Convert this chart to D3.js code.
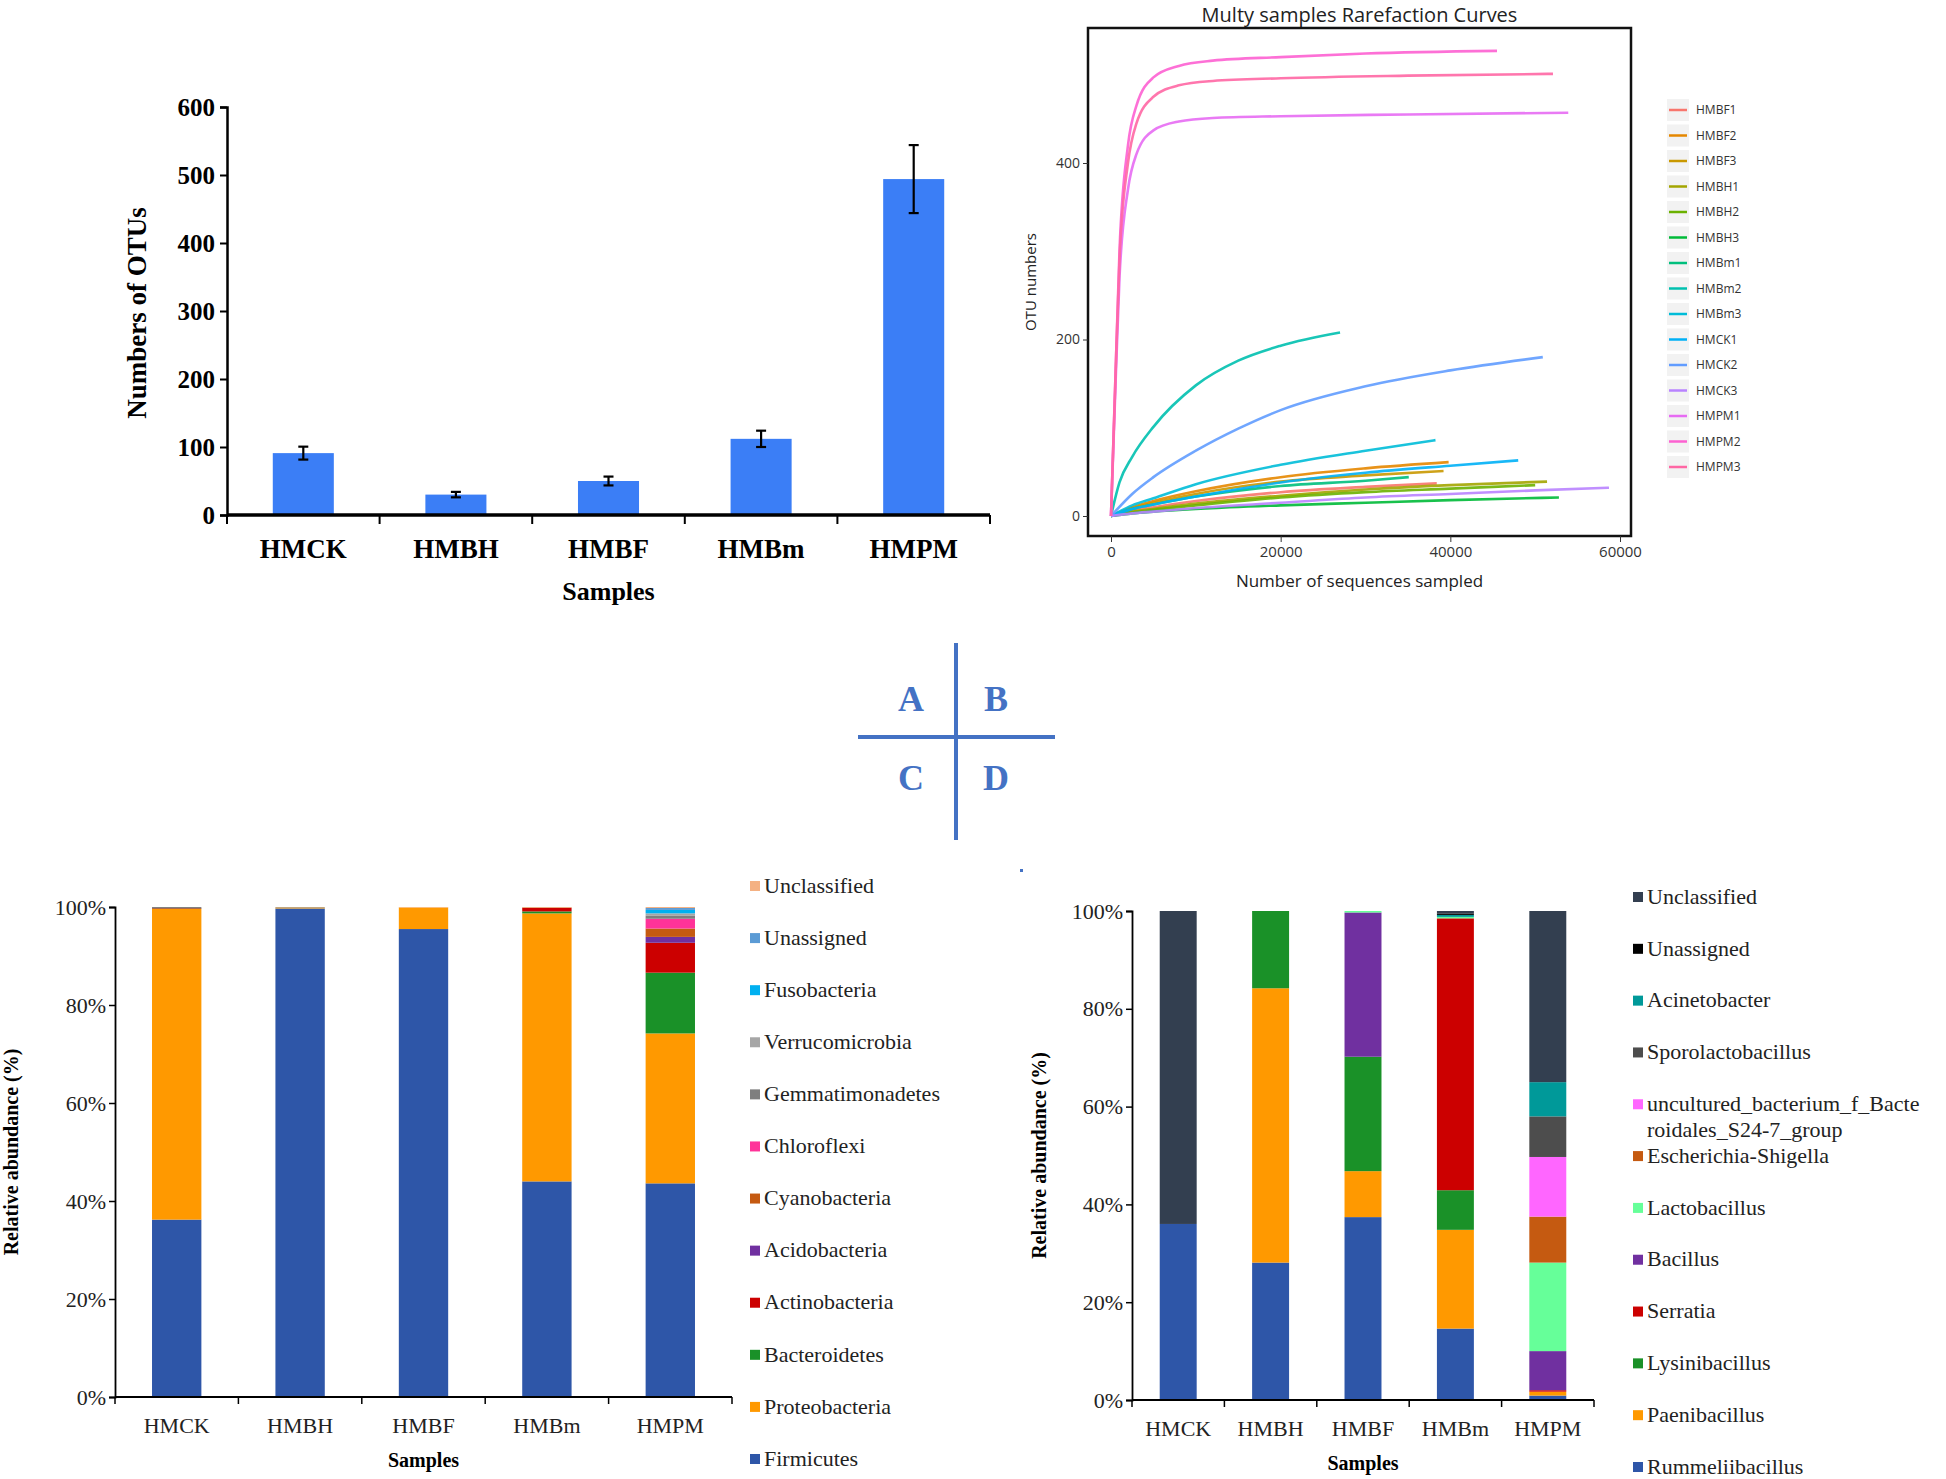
<!DOCTYPE html>
<html>
<head>
<meta charset="utf-8">
<script src="https://cdn.jsdelivr.net/npm/d3@7"></script>
<style>
  html, body { margin: 0; padding: 0; background: #fff; }
  svg { display: block; }
</style>
</head>
<body>
<svg id="chart" width="1946" height="1479"></svg>
<script>
// ---------------- DATA ----------------
const samples = ["HMCK", "HMBH", "HMBF", "HMBm", "HMPM"];

// Panel A: number of OTUs
const otuMeans = [91, 30, 50, 112, 494];
const otuErrors = [9.5, 4, 6.5, 12, 50];
const otuTicks = [0, 100, 200, 300, 400, 500, 600];

// Panel B: rarefaction curves (read points: [sequences, OTUs])
const rareNames = ["HMBF1","HMBF2","HMBF3","HMBH1","HMBH2","HMBH3","HMBm1","HMBm2","HMBm3","HMCK1","HMCK2","HMCK3","HMPM1","HMPM2","HMPM3"];
const rareColors = ["#F8766D","#E58700","#C99800","#A3A500","#6BB100","#00BA38","#00BF7D","#00C0AF","#00BCD8","#00B0F6","#619CFF","#B983FF","#E76BF3","#FD61D1","#FF67A4"];
const rareHMBF1 = [[0,0],[2500,6],[5000,10],[10000,17],[20000,27],[30000,33],[38400,37]];
const rareHMBF2 = [[0,0],[2500,10],[5000,17],[10000,28],[20000,44],[30000,54],[39800,61]];
const rareHMBF3 = [[0,0],[2500,9],[5000,15],[10000,25],[20000,39],[30000,46],[39200,51]];
const rareHMBH1 = [[0,0],[2500,5],[5000,8],[10000,14],[20000,23],[30000,30],[40000,35],[51400,39]];
const rareHMBH2 = [[0,0],[2500,4],[5000,7],[10000,12],[20000,21],[30000,27],[40000,31],[50000,35]];
const rareHMBH3 = [[0,0],[2500,3],[5000,5],[10000,8],[20000,12],[30000,15],[40000,18],[52800,21]];
const rareHMBm1 = [[0,0],[2500,8],[5000,13],[10000,22],[20000,34],[30000,40],[35100,44]];
const rareHMBm2 = [[0,0],[1000,38],[2500,67],[5000,101],[10000,148],[15000,176],[20000,193],[27000,208]];
const rareHMBm3 = [[0,0],[2500,12],[5000,20],[10000,36],[20000,58],[30000,74],[38250,86]];
const rareHMCK1 = [[0,0],[2500,8],[5000,13],[10000,22],[20000,38],[30000,49],[40000,57],[48000,63]];
const rareHMCK2 = [[0,0],[2500,25],[5000,44],[10000,74],[15000,99],[20000,120],[30000,147],[40000,165],[50900,180]];
const rareHMCK3 = [[0,0],[2500,3],[5000,5],[10000,9],[20000,15],[30000,21],[40000,25],[50000,29],[58700,32]];
const rareHMPM1 = [[0,0],[500,140],[1000,270],[2000,370],[3000,410],[5000,437],[8000,447],[12000,451],[20000,453],[35000,455],[53900,457]];
const rareHMPM2 = [[0,0],[500,150],[1000,300],[2000,420],[3000,465],[5000,497],[8000,510],[12000,516],[20000,520],[30000,524],[45500,527]];
const rareHMPM3 = [[0,0],[500,150],[1000,290],[2000,400],[3000,445],[5000,475],[8000,488],[12000,493],[20000,496],[35000,499],[52100,501]];
const rareSeries = [rareHMBF1,rareHMBF2,rareHMBF3,rareHMBH1,rareHMBH2,rareHMBH3,rareHMBm1,rareHMBm2,rareHMBm3,rareHMCK1,rareHMCK2,rareHMCK3,rareHMPM1,rareHMPM2,rareHMPM3];
const rareXTicks = [0, 20000, 40000, 60000];
const rareYTicks = [0, 200, 400];

// Panel C: phylum relative abundance (%), stack order bottom -> top
const phylumNames = ["Firmicutes","Proteobacteria","Bacteroidetes","Actinobacteria","Acidobacteria","Cyanobacteria","Chloroflexi","Gemmatimonadetes","Verrucomicrobia","Fusobacteria","Unassigned","Unclassified"];
const phylumColors = ["#2E56A8","#FF9900","#1A9128","#CC0000","#7030A0","#C55A11","#FF3399","#7F7F7F","#A6A6A6","#00B0F0","#5B9BD5","#F4B183"];
const phylumFirmicutes       = [36.2, 99.7, 95.5, 44.0, 43.6];
const phylumProteobacteria   = [63.4, 0.2, 4.4, 54.7, 30.6];
const phylumBacteroidetes    = [0.1, 0, 0, 0.4, 12.4];
const phylumActinobacteria   = [0.1, 0, 0, 0.7, 6.1];
const phylumAcidobacteria    = [0, 0, 0, 0, 1.2];
const phylumCyanobacteria    = [0, 0, 0, 0.1, 1.7];
const phylumChloroflexi      = [0, 0, 0, 0, 2.0];
const phylumGemmatimonadetes = [0.2, 0.1, 0, 0, 0.6];
const phylumVerrucomicrobia  = [0, 0, 0, 0, 0.5];
const phylumFusobacteria     = [0, 0, 0, 0, 0.7];
const phylumUnassigned       = [0, 0, 0, 0, 0.4];
const phylumUnclassified     = [0, 0, 0.1, 0.1, 0.2];
const phylumValues = [phylumFirmicutes, phylumProteobacteria, phylumBacteroidetes, phylumActinobacteria, phylumAcidobacteria, phylumCyanobacteria, phylumChloroflexi, phylumGemmatimonadetes, phylumVerrucomicrobia, phylumFusobacteria, phylumUnassigned, phylumUnclassified];

// Panel D: genus relative abundance (%), stack order bottom -> top
const genusNames = ["Rummeliibacillus","Paenibacillus","Lysinibacillus","Serratia","Bacillus","Lactobacillus","Escherichia-Shigella","uncultured_bacterium_f_Bacteroidales_S24-7_group","Sporolactobacillus","Acinetobacter","Unassigned","Unclassified"];
const genusColors = ["#2E56A8","#FF9900","#1A9128","#CC0000","#7030A0","#66FF99","#C55A11","#FF66FF","#4D4D4D","#009999","#000000","#333F50"];
const genusRummeliibacillus = [36.0, 28.1, 37.4, 14.6, 0.9];
const genusPaenibacillus    = [0, 56.1, 9.4, 20.2, 0.8];
const genusLysinibacillus   = [0, 15.8, 23.4, 8.1, 0];
const genusSerratia         = [0, 0, 0, 55.6, 0.3];
const genusBacillus         = [0, 0, 29.5, 0, 8.0];
const genusLactobacillus    = [0, 0, 0.3, 0.3, 18.1];
const genusEscherichia      = [0, 0, 0, 0, 9.4];
const genusUncultured       = [0, 0, 0, 0, 12.2];
const genusSporolacto       = [0, 0, 0, 0, 8.3];
const genusAcinetobacter    = [0, 0, 0, 0.4, 7.0];
const genusUnassigned       = [0, 0, 0, 0.3, 0];
const genusUnclassified     = [64.0, 0, 0, 0.5, 35.0];
const genusValues = [genusRummeliibacillus, genusPaenibacillus, genusLysinibacillus, genusSerratia, genusBacillus, genusLactobacillus, genusEscherichia, genusUncultured, genusSporolacto, genusAcinetobacter, genusUnassigned, genusUnclassified];

const pctTicks = [0, 20, 40, 60, 80, 100];

// ---------------- DRAWING ----------------
const svg = d3.select("#chart");
svg.append("rect").attr("width", 1946).attr("height", 1479).attr("fill", "#fff");
const SERIF = "'Liberation Serif', 'Times New Roman', serif";
const SANS = "'Open Sans', 'DejaVu Sans', sans-serif";

// ===== Panel A =====
(function () {
  const g = svg.append("g");
  const L = 227, R = 990, Y0 = 515, Y600 = 107;
  const x = d3.scaleBand().domain(samples).range([L, R]).paddingInner(0.6).paddingOuter(0.3);
  const y = d3.scaleLinear().domain([0, 600]).range([Y0, Y600]);

  g.selectAll("rect.bar").data(samples).enter().append("rect")
    .attr("x", d => x(d)).attr("width", x.bandwidth())
    .attr("y", (d, i) => y(otuMeans[i])).attr("height", (d, i) => Y0 - y(otuMeans[i]))
    .attr("fill", "#3B7EF6");

  const eg = g.append("g").attr("stroke", "#000").attr("stroke-width", 2.2);
  samples.forEach((s, i) => {
    const cx = x(s) + x.bandwidth() / 2;
    eg.append("line").attr("x1", cx).attr("x2", cx).attr("y1", y(otuMeans[i] - otuErrors[i])).attr("y2", y(otuMeans[i] + otuErrors[i]));
    [otuMeans[i] - otuErrors[i], otuMeans[i] + otuErrors[i]].forEach(v => {
      eg.append("line").attr("x1", cx - 5).attr("x2", cx + 5).attr("y1", y(v)).attr("y2", y(v));
    });
  });

  const ya = g.append("g").attr("transform", `translate(${L},0)`)
    .call(d3.axisLeft(y).tickValues(otuTicks).tickSize(7).tickFormat(d3.format("d")));
  ya.select(".domain").attr("stroke-width", 2.5);
  ya.selectAll(".tick line").attr("stroke-width", 2);
  ya.selectAll("text").attr("font-family", SERIF).attr("font-weight", "bold").attr("font-size", 25).attr("fill", "#000").attr("dx", "-2");

  const xa = g.append("g");
  xa.append("line").attr("x1", L).attr("x2", R).attr("y1", Y0).attr("y2", Y0).attr("stroke", "#000").attr("stroke-width", 3.5);
  d3.range(samples.length + 1).forEach(i => {
    const tx = L + i * x.step();
    xa.append("line").attr("x1", tx).attr("x2", tx).attr("y1", Y0).attr("y2", Y0 + 9).attr("stroke", "#000").attr("stroke-width", 2);
  });
  g.selectAll("text.cat").data(samples).enter().append("text")
    .attr("x", d => x(d) + x.bandwidth() / 2).attr("y", 558)
    .attr("text-anchor", "middle").attr("font-family", SERIF).attr("font-weight", "bold").attr("font-size", 27)
    .text(d => d);
  g.append("text").attr("x", (L + R) / 2).attr("y", 600).attr("text-anchor", "middle")
    .attr("font-family", SERIF).attr("font-weight", "bold").attr("font-size", 26).text("Samples");
  g.append("text").attr("transform", `translate(146,${(Y0 + Y600) / 2 + 2}) rotate(-90)`).attr("text-anchor", "middle")
    .attr("font-family", SERIF).attr("font-weight", "bold").attr("font-size", 27).text("Numbers of OTUs");
})();

// ===== Panel B =====
(function () {
  const g = svg.append("g");
  const BL = 1088, BR = 1631, BT = 28, BB = 536;
  const x = d3.scaleLinear().domain([0, 60000]).range([1111, 1620]);
  const y = d3.scaleLinear().domain([0, 400]).range([516, 163]);

  g.append("text").attr("x", (BL + BR) / 2).attr("y", 22).attr("text-anchor", "middle")
    .attr("font-family", "'Liberation Sans Narrow', 'Open Sans', sans-serif").attr("font-size", 20).attr("fill", "#222")
    .text("Multy samples Rarefaction Curves");

  const line = d3.line().x(d => x(d[0])).y(d => y(d[1])).curve(d3.curveMonotoneX);
  const clip = g.append("clipPath").attr("id", "clipB");
  clip.append("rect").attr("x", BL).attr("y", BT).attr("width", BR - BL).attr("height", BB - BT);
  g.append("g").attr("clip-path", "url(#clipB)").selectAll("path").data(rareSeries).enter().append("path")
    .attr("d", d => line(d)).attr("fill", "none")
    .attr("stroke", (d, i) => rareColors[i]).attr("stroke-width", 2.6).attr("stroke-opacity", 0.9);

  g.append("rect").attr("x", BL).attr("y", BT).attr("width", BR - BL).attr("height", BB - BT)
    .attr("fill", "none").attr("stroke", "#111").attr("stroke-width", 2.5);

  const ya = g.append("g").attr("transform", `translate(${BL},0)`)
    .call(d3.axisLeft(y).tickValues(rareYTicks).tickSize(5).tickFormat(d3.format("d")));
  ya.select(".domain").remove();
  ya.selectAll(".tick line").attr("stroke", "#333");
  ya.selectAll("text").attr("font-family", SANS).attr("font-size", 14).attr("fill", "#333");

  const xa = g.append("g").attr("transform", `translate(0,${BB})`)
    .call(d3.axisBottom(x).tickValues(rareXTicks).tickSize(6).tickFormat(d3.format("d")));
  xa.select(".domain").remove();
  xa.selectAll(".tick line").attr("stroke", "#333");
  xa.selectAll("text").attr("font-family", SANS).attr("font-size", 15).attr("fill", "#333").attr("dy", "0.8em");

  g.append("text").attr("x", (BL + BR) / 2).attr("y", 587).attr("text-anchor", "middle")
    .attr("font-family", SANS).attr("font-size", 17).attr("fill", "#222").text("Number of sequences sampled");
  g.append("text").attr("transform", `translate(1036,${(BT + BB) / 2}) rotate(-90)`).attr("text-anchor", "middle")
    .attr("font-family", SANS).attr("font-size", 15).attr("fill", "#222").text("OTU numbers");

  const ly = d3.scalePoint().domain(rareNames).range([110, 467]);
  const lg = g.append("g");
  rareNames.forEach((n, i) => {
    lg.append("rect").attr("x", 1667).attr("y", ly(n) - 11).attr("width", 22).attr("height", 22).attr("fill", "#F2F2F2");
    lg.append("line").attr("x1", 1669).attr("x2", 1687).attr("y1", ly(n)).attr("y2", ly(n)).attr("stroke", rareColors[i]).attr("stroke-width", 2.5);
    lg.append("text").attr("x", 1696).attr("y", ly(n)).attr("dy", "0.35em").attr("font-family", SANS).attr("font-size", 12).attr("fill", "#333").text(n);
  });
})();

// ===== Cross with panel letters =====
(function () {
  const g = svg.append("g");
  const col = "#4472C4";
  g.append("line").attr("x1", 956).attr("x2", 956).attr("y1", 643).attr("y2", 840).attr("stroke", col).attr("stroke-width", 4);
  g.append("line").attr("x1", 858).attr("x2", 1055).attr("y1", 737).attr("y2", 737).attr("stroke", col).attr("stroke-width", 4);
  [["A", 911, 711], ["B", 996, 711], ["C", 911, 790], ["D", 996, 790]].forEach(([t, lx, lyy]) => {
    g.append("text").attr("x", lx).attr("y", lyy).attr("text-anchor", "middle")
      .attr("font-family", SERIF).attr("font-weight", "bold").attr("font-size", 36).attr("fill", col).text(t);
  });
  g.append("rect").attr("x", 1020).attr("y", 869).attr("width", 3).attr("height", 3).attr("fill", col);
})();

// ===== Stacked bar panels C and D =====
function stackedPanel(opts) {
  const g = svg.append("g");
  const { L, R, Y0, Y100, names, colors, values, legendX, legendTop, legendBottom, ylabX, wrap } = opts;
  const x = d3.scaleBand().domain(samples).range([L, R]).paddingInner(0.6).paddingOuter(0.3);
  const y = d3.scaleLinear().domain([0, 100]).range([Y0, Y100]);
  const rows = samples.map((s, j) => {
    const o = { sample: s };
    names.forEach((n, k) => { o[n] = values[k][j]; });
    return o;
  });
  const series = d3.stack().keys(names)(rows);
  series.forEach((ser, k) => {
    g.append("g").attr("fill", colors[k]).selectAll("rect").data(ser).enter().append("rect")
      .attr("x", d => x(d.data.sample)).attr("width", x.bandwidth())
      .attr("y", d => y(d[1])).attr("height", d => Math.max(0, y(d[0]) - y(d[1])));
  });
  const ya = g.append("g").attr("transform", `translate(${L},0)`)
    .call(d3.axisLeft(y).tickValues(pctTicks).tickSize(6).tickFormat(d => d + "%"));
  ya.select(".domain").attr("stroke-width", 1.8);
  ya.selectAll(".tick line").attr("stroke-width", 1.5);
  ya.selectAll("text").attr("font-family", SERIF).attr("font-size", 22).attr("fill", "#222");
  const xa = g.append("g");
  xa.append("line").attr("x1", L).attr("x2", R).attr("y1", Y0).attr("y2", Y0).attr("stroke", "#000").attr("stroke-width", 2.2);
  d3.range(samples.length + 1).forEach(i => {
    const tx = L + i * x.step();
    xa.append("line").attr("x1", tx).attr("x2", tx).attr("y1", Y0).attr("y2", Y0 + 7).attr("stroke", "#000").attr("stroke-width", 1.5);
  });
  g.selectAll("text.cat").data(samples).enter().append("text")
    .attr("x", d => x(d) + x.bandwidth() / 2).attr("y", Y0 + 36).attr("text-anchor", "middle")
    .attr("font-family", SERIF).attr("font-size", 22).attr("fill", "#222").text(d => d);
  g.append("text").attr("x", (L + R) / 2).attr("y", Y0 + 70).attr("text-anchor", "middle")
    .attr("font-family", SERIF).attr("font-weight", "bold").attr("font-size", 20).text("Samples");
  g.append("text").attr("transform", `translate(${ylabX},${(Y0 + Y100) / 2}) rotate(-90)`).attr("text-anchor", "middle")
    .attr("font-family", SERIF).attr("font-weight", "bold").attr("font-size", 20).text("Relative abundance (%)");

  const legendOrder = names.slice().reverse();
  const ly = d3.scalePoint().domain(legendOrder).range([legendTop, legendBottom]);
  legendOrder.forEach(n => {
    const k = names.indexOf(n);
    g.append("rect").attr("x", legendX).attr("y", ly(n) - 4).attr("width", 10).attr("height", 10).attr("fill", colors[k]);
    const t = g.append("text").attr("x", legendX + 14).attr("y", ly(n)).attr("dy", "0.35em")
      .attr("font-family", SERIF).attr("font-size", 22).attr("fill", "#222");
    if (wrap && n.length > wrap) {
      t.append("tspan").attr("x", legendX + 14).text(n.slice(0, wrap));
      t.append("tspan").attr("x", legendX + 14).attr("dy", "1.2em").text(n.slice(wrap));
    } else {
      t.text(n);
    }
  });
}

stackedPanel({ L: 115, R: 732, Y0: 1397, Y100: 907, names: phylumNames, colors: phylumColors, values: phylumValues,
  legendX: 750, legendTop: 885, legendBottom: 1458, ylabX: 18, wrap: 0 });
stackedPanel({ L: 1132, R: 1594, Y0: 1400, Y100: 911, names: genusNames, colors: genusColors, values: genusValues,
  legendX: 1633, legendTop: 896, legendBottom: 1466, ylabX: 1046, wrap: 28 });
</script>
</body>
</html>
